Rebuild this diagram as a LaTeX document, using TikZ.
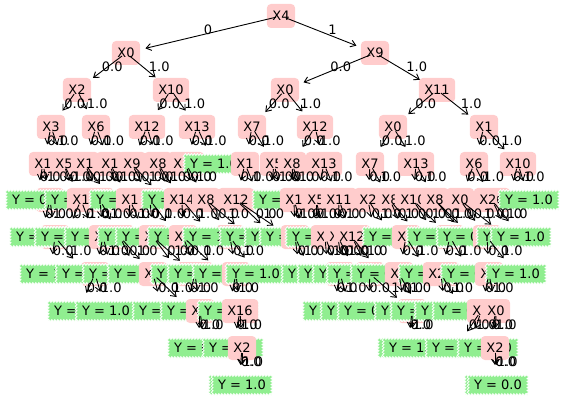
\documentclass[tikz,border=0pt]{standalone}
\usepackage{fontspec}
\setmainfont{DejaVu Sans}
\usetikzlibrary{arrows.meta,decorations.pathmorphing}
\definecolor{pinkc}{RGB}{255,204,204}
\definecolor{leafc}{RGB}{144,238,144}
% split nodes (pink) and leaves (green, saw-tooth border)
\newcommand\inode[4]{\node[pk] (#1) at (#2,#3) {#4};}
\newcommand\leafnode[4]{\node[lf] (#1) at (#2,#3) {#4};}
\begin{document}
\begin{tikzpicture}[x=1pt,y=-1pt,
  font=\fontsize{13}{15}\selectfont,
  pk/.style={fill=pinkc, rounded corners=4pt, inner xsep=5.5pt, inner ysep=0pt,
    minimum height=24pt, text height=9.5pt, text depth=0pt},
  lf/.style={fill=leafc, draw=white, line width=0.7pt, decorate,
    decoration={zigzag, segment length=3pt, amplitude=1pt},
    inner xsep=6pt, inner ysep=0pt, minimum height=19pt, text height=9.5pt, text depth=0pt},
  edge/.style={-{Straight Barb[length=5pt,width=7pt]}, line width=0.9pt,
    shorten <=5pt, shorten >=20pt},
  lbl/.style={anchor=base west, inner sep=0pt}]
\useasboundingbox (0,0) rectangle (561,403);

% depth 0-3
\inode{a0}{281}{16}{X4}
\inode{b126}{126}{53}{X0}
\inode{b375}{375}{53}{X9}
\inode{c77}{77}{90}{X2}
\inode{c171}{171}{90}{X10}
\inode{c285}{285}{90}{X0}
\inode{c437}{437}{90}{X11}
\inode{d51}{51}{127}{X3}
\inode{d96}{96}{127}{X6}
\inode{d147}{147}{127}{X12}
\inode{d197}{197}{127}{X13}
\inode{d252}{252}{127}{X7}
\inode{d315}{315}{127}{X12}
\inode{d393}{393}{127}{X0}
\inode{d484}{484}{127}{X1}

% depth 4
\inode{e43}{43}{164}{X1}
\inode{e64}{64}{164}{X5}
\inode{e85}{85}{164}{X1}
\inode{e110}{110}{164}{X1}
\inode{e132}{132}{164}{X9}
\inode{e158}{158}{164}{X8}
\inode{e186}{186}{164}{X15}
\leafnode{e216}{214}{164}{Y = 1.0}
\inode{e246}{245}{164}{X1}
\inode{e274}{274}{164}{X5}
\inode{e292}{292}{164}{X8}
\inode{e324}{324}{164}{X13}
\inode{e370}{370}{164}{X7}
\inode{e416}{416}{164}{X13}
\inode{e474}{474}{164}{X6}
\inode{e518}{518}{164}{X10}

% depth 5 (nodes lying underneath first)
\inode{f50}{50}{200}{X3}
\inode{f100}{100}{200}{X7}
\leafnode{f112}{112}{200}{Y = 0.0}
\inode{f150}{150}{200}{X2}
\leafnode{f165}{165}{200}{Y = 0.0}
\leafnode{f195}{195}{200}{Y = 1.0}
\leafnode{f260}{260}{200}{Y = 0.0}
\leafnode{f270}{270}{200}{Y = 1.0}
\leafnode{f305}{305}{200}{Y = 0.0}
\leafnode{f508}{508}{200}{Y = 0.0}
\leafnode{f36}{36}{200}{Y = 0.0}
\leafnode{f75}{75}{200}{Y = 0.0}
\inode{f81}{81}{200}{X1}
\leafnode{f120}{120}{200}{Y = 0.0}
\inode{f130}{130}{200}{X1}
\leafnode{f172}{172}{200}{Y = 0.0}
\inode{f182}{182}{200}{X14}
\inode{f206}{206}{200}{X8}
\inode{f236}{236}{200}{X12}
\leafnode{f283}{283}{200}{Y = 0.0}
\inode{f294}{294}{200}{X1}
\inode{f316}{316}{200}{X5}
\inode{f339}{339}{200}{X11}
\inode{f368}{368}{200}{X2}
\inode{f390}{390}{200}{X8}
\inode{f413}{413}{200}{X10}
\inode{f435}{435}{200}{X8}
\inode{f460}{460}{200}{X0}
\inode{f492}{492}{200}{X20}
\leafnode{f529}{529}{200}{Y = 1.0}

% depth 6
\inode{g55}{55}{237}{X6}
\inode{g120}{120}{237}{X9}
\inode{g230}{230}{237}{X3}
\inode{g450}{450}{237}{X5}
\leafnode{g305}{305}{237}{Y = 0.0}
\leafnode{g375}{375}{237}{Y = 0.0}
\leafnode{g420}{420}{237}{Y = 1.0}
\leafnode{g472}{472}{237}{Y = 0.0}
\leafnode{g510}{510}{237}{Y = 0.0}
\leafnode{g40}{40}{237}{Y = 0.0}
\leafnode{g65}{65}{237}{Y = 0.0}
\leafnode{g95}{95}{237}{Y = 0.0}
\inode{g103}{103}{237}{X5}
\leafnode{g128}{128}{237}{Y = 0.0}
\leafnode{g146}{146}{237}{Y = 0.0}
\inode{g153}{153}{237}{X8}
\leafnode{g178}{178}{237}{Y = 0.0}
\inode{g183}{183}{237}{X1}
\leafnode{g213}{213}{237}{Y = 1.0}
\leafnode{g250}{250}{237}{Y = 0.0}
\leafnode{g275}{275}{237}{Y = 0.0}
\leafnode{g290}{290}{237}{Y = 0.0}
\inode{g295}{295}{237}{X2}
\leafnode{g316}{316}{237}{Y = 0.0}
\inode{g325}{325}{237}{X7}
\inode{g338}{338}{237}{X6}
\inode{g352}{352}{237}{X12}
\leafnode{g393}{393}{237}{Y = 0.0}
\inode{g406}{406}{237}{X1}
\leafnode{g437}{437}{237}{Y = 0.0}
\leafnode{g467}{467}{237}{Y = 0.0}
\inode{g487}{487}{237}{X3}
\leafnode{g507}{507}{237}{Y = 0.0}
\leafnode{g521}{521}{237}{Y = 1.0}

% depth 7
\inode{h95}{95}{274}{X4}
\inode{h195}{195}{274}{X10}
\inode{h340}{340}{274}{X2}
\inode{h370}{370}{274}{X8}
\leafnode{h300}{300}{274}{Y = 0.0}
\leafnode{h50}{50}{274}{Y = 1.0}
\leafnode{h86}{86}{274}{Y = 0.0}
\leafnode{h113}{113}{274}{Y = 0.0}
\leafnode{h138}{138}{274}{Y = 0.0}
\inode{h153}{153}{274}{X0}
\leafnode{h181}{181}{274}{Y = 0.0}
\leafnode{h198}{198}{274}{Y = 0.0}
\leafnode{h223}{223}{274}{Y = 0.0}
\inode{h236}{236}{274}{X1}
\leafnode{h256}{256}{274}{Y = 1.0}
\leafnode{h312}{312}{274}{Y = 0.0}
\leafnode{h328}{328}{274}{Y = 0.0}
\leafnode{h343}{343}{274}{Y = 0.0}
\leafnode{h357}{357}{274}{Y = 0.0}
\leafnode{h381}{381}{274}{Y = 0.0}
\inode{h399}{399}{274}{X9}
\leafnode{h429}{429}{274}{Y = 0.0}
\inode{h441}{441}{274}{X21}
\leafnode{h471}{471}{274}{Y = 0.0}
\inode{h489}{489}{274}{X5}
\leafnode{h516}{516}{274}{Y = 1.0}

% depth 8
\leafnode{i185}{185}{311}{Y = 0.0}
\inode{i412}{412}{311}{X9}
\leafnode{i78}{78}{311}{Y = 0.0}
\leafnode{i106}{106}{311}{Y = 1.0}
\leafnode{i163}{163}{311}{Y = 0.0}
\leafnode{i191}{191}{311}{Y = 0.0}
\inode{i200}{200}{311}{X3}
\leafnode{i228}{228}{311}{Y = 0.0}
\inode{i240}{240}{311}{X16}
\leafnode{i333}{333}{311}{Y = 0.0}
\leafnode{i351}{351}{311}{Y = 0.0}
\leafnode{i368}{368}{311}{Y = 0.0}
\leafnode{i405}{405}{311}{Y = 0.0}
\leafnode{i421}{421}{311}{Y = 0.0}
\leafnode{i445}{445}{311}{Y = 0.0}
\leafnode{i463}{463}{311}{Y = 0.0}
\inode{i481}{481}{311}{X8}
\inode{i496}{496}{311}{X0}

% depth 9
\leafnode{j205}{205}{348}{Y = 0.0}
\leafnode{j408}{408}{348}{Y = 0.0}
\leafnode{j470}{470}{348}{Y = 0.0}
\leafnode{j198}{198}{348}{Y = 0.0}
\leafnode{j233}{233}{348}{Y = 1.0}
\inode{j242}{242}{348}{X2}
\leafnode{j413}{413}{348}{Y = 1.0}
\leafnode{j456}{456}{348}{Y = 0.0}
\leafnode{j488}{488}{348}{Y = 1.0}
\inode{j495}{495}{348}{X2}

% depth 10
\leafnode{k239}{239}{385}{Y = 0.0}
\leafnode{k242}{242}{385}{Y = 1.0}
\leafnode{k495}{495}{385}{Y = 1.0}
\leafnode{k498}{498}{385}{Y = 0.0}

% connectors with their branch values
\draw[edge] (a0.center) -- node[lbl]{0} (b126.center);
\draw[edge] (a0.center) -- node[lbl]{1} (b375.center);
\foreach \p/\u/\v in {
  b126/c77/c171, b375/c285/c437,
  c77/d51/d96, c171/d147/d197, c285/d252/d315, c437/d393/d484,
  d51/e43/e64, d96/e85/e110, d147/e132/e158, d197/e186/e216,
  d252/e246/e274, d315/e292/e324, d393/e370/e416, d484/e474/e518,
  e43/f36/f50, e64/f75/f81, e85/f100/f112, e110/f120/f130,
  e132/f150/f165, e158/f172/f182, e186/f195/f206, e246/f236/f260,
  e274/f270/f283, e292/f294/f305, e324/f316/f339, e370/f368/f390,
  e416/f413/f435, e474/f460/f492, e518/f508/f529,
  f50/g40/g55, f81/g65/g95, f100/g103/g120, f130/g128/g146,
  f150/g153/g178, f182/g183/g213, f206/g230/g250, f236/g275/g290,
  f294/g295/g305, f316/g316/g325, f339/g338/g352, f368/g375/g393,
  f390/g406/g420, f413/g437/g450, f435/g467/g472, f460/g487/g507,
  f492/g510/g521,
  g55/h50/h86, g103/h95/h113, g120/h138/h153, g153/h181/h195,
  g183/h198/h223, g230/h236/h256, g295/h300/h312, g325/h328/h340,
  g338/h343/h357, g352/h370/h381, g406/h399/h429, g450/h441/h471,
  g487/h489/h516,
  h95/i78/i106, h153/i163/i191, h195/i185/i200, h236/i228/i240,
  h340/i333/i351, h370/i368/i412, h399/i405/i421, h441/i445/i463,
  h489/i481/i496,
  i200/j198/j205, i240/j233/j242, i412/j408/j413, i481/j456/j470,
  i496/j488/j495,
  j242/k239/k242, j495/k495/k498} {
  \draw[edge] (\p.center) -- node[lbl]{0.0} (\u.center);
  \draw[edge] (\p.center) -- node[lbl]{1.0} (\v.center);
}
\end{tikzpicture}
\end{document}
